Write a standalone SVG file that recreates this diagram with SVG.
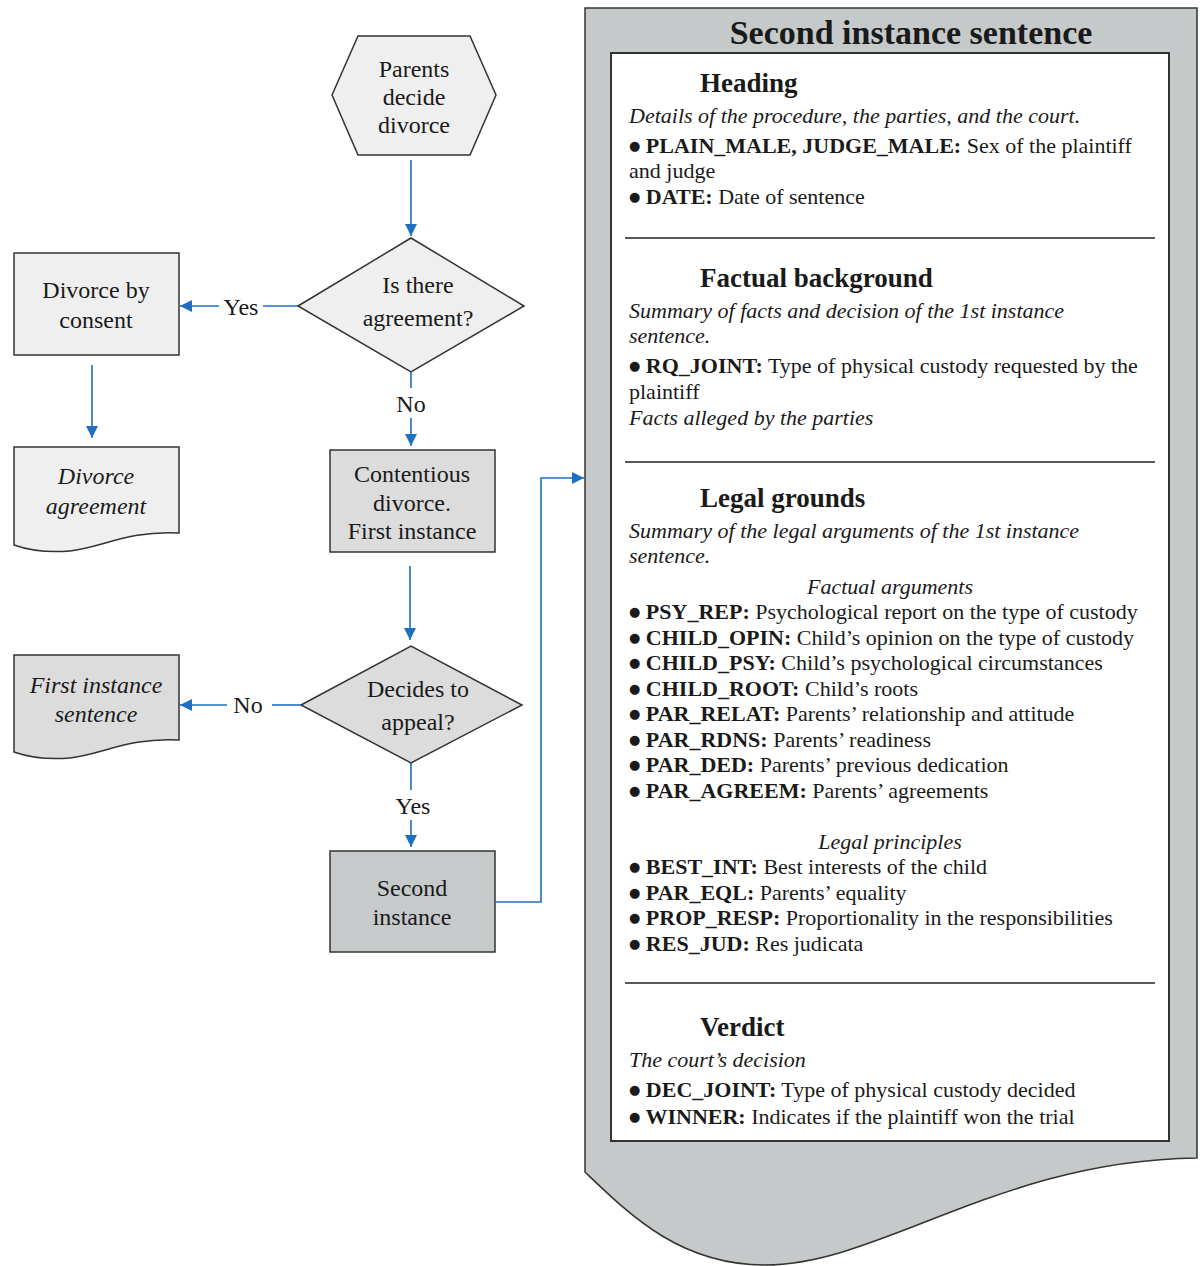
<svg xmlns="http://www.w3.org/2000/svg" width="1201" height="1266" viewBox="0 0 1201 1266">
<defs>
<marker id="ah" viewBox="0 0 12 12" refX="12" refY="6" markerWidth="12" markerHeight="12" markerUnits="userSpaceOnUse" orient="auto">
<path d="M0,0 L12,6 L0,12 Z" fill="#1f6fbf"/>
</marker>
<style>
.shape{stroke:#333;stroke-width:1.5}
.l1{fill:#efefef}
.l2{fill:#dcdcdc}
.l3{fill:#c6cacb}
.t{font-family:"Liberation Serif","Times New Roman",serif;font-size:24px;fill:#1a1a1a;text-anchor:middle}
.ti{font-style:italic}
.c{fill:none;stroke:#1f6fbf;stroke-width:1.6}
.p{font-family:"Liberation Serif","Times New Roman",serif;font-size:22px;fill:#1a1a1a}
.b{font-weight:bold}
.i{font-style:italic}
.d{font-family:"DejaVu Sans",sans-serif;font-size:13px}
.h{font-family:"Liberation Serif","Times New Roman",serif;font-size:27px;font-weight:bold;fill:#1a1a1a}
.title{font-family:"Liberation Serif","Times New Roman",serif;font-size:34px;font-weight:bold;fill:#1a1a1a;text-anchor:middle}
.sep{stroke:#222;stroke-width:1.5}
</style>
</defs>
<rect width="1201" height="1266" fill="#ffffff"/>

<g id="sentence-panel">
<path class="shape" d="M585,8 H1197 V1158 C1000,1160 880,1265 765,1265 C680,1265 630,1215 585,1172 Z" fill="#c5c9ca"/>
<rect x="611" y="53" width="558" height="1088" fill="#ffffff" stroke="#333" stroke-width="2"/>
<text class="title" x="911" y="44">Second instance sentence</text>
<line class="sep" x1="625" y1="238" x2="1155" y2="238"/>
<line class="sep" x1="625" y1="462" x2="1155" y2="462"/>
<line class="sep" x1="625" y1="983" x2="1155" y2="983"/>

<text class="h" x="700" y="92">Heading</text>
<text class="p i" x="629" y="123">Details of the procedure, the parties, and the court.</text>
<text class="p" x="629" y="153"><tspan class="d" dy="-3">●</tspan><tspan class="b" dy="3"> PLAIN_MALE, JUDGE_MALE:</tspan> Sex of the plaintiff</text>
<text class="p" x="629" y="178">and judge</text>
<text class="p" x="629" y="204"><tspan class="d" dy="-3">●</tspan><tspan class="b" dy="3"> DATE:</tspan> Date of sentence</text>

<text class="h" x="700" y="287">Factual background</text>
<text class="p i" x="629" y="318">Summary of facts and decision of the 1st instance</text>
<text class="p i" x="629" y="343">sentence.</text>
<text class="p" x="629" y="373"><tspan class="d" dy="-3">●</tspan><tspan class="b" dy="3"> RQ_JOINT:</tspan> Type of physical custody requested by the</text>
<text class="p" x="629" y="399">plaintiff</text>
<text class="p i" x="629" y="425">Facts alleged by the parties</text>

<text class="h" x="700" y="507">Legal grounds</text>
<text class="p i" x="629" y="538">Summary of the legal arguments of the 1st instance</text>
<text class="p i" x="629" y="563">sentence.</text>
<text class="p i" x="890" y="594" text-anchor="middle">Factual arguments</text>
<text class="p" x="629" y="619"><tspan class="d" dy="-3">●</tspan><tspan class="b" dy="3"> PSY_REP:</tspan> Psychological report on the type of custody</text>
<text class="p" x="629" y="645"><tspan class="d" dy="-3">●</tspan><tspan class="b" dy="3"> CHILD_OPIN:</tspan> Child’s opinion on the type of custody</text>
<text class="p" x="629" y="670"><tspan class="d" dy="-3">●</tspan><tspan class="b" dy="3"> CHILD_PSY:</tspan> Child’s psychological circumstances</text>
<text class="p" x="629" y="696"><tspan class="d" dy="-3">●</tspan><tspan class="b" dy="3"> CHILD_ROOT:</tspan> Child’s roots</text>
<text class="p" x="629" y="721"><tspan class="d" dy="-3">●</tspan><tspan class="b" dy="3"> PAR_RELAT:</tspan> Parents’ relationship and attitude</text>
<text class="p" x="629" y="747"><tspan class="d" dy="-3">●</tspan><tspan class="b" dy="3"> PAR_RDNS:</tspan> Parents’ readiness</text>
<text class="p" x="629" y="772"><tspan class="d" dy="-3">●</tspan><tspan class="b" dy="3"> PAR_DED:</tspan> Parents’ previous dedication</text>
<text class="p" x="629" y="798"><tspan class="d" dy="-3">●</tspan><tspan class="b" dy="3"> PAR_AGREEM:</tspan> Parents’ agreements</text>
<text class="p i" x="890" y="849" text-anchor="middle">Legal principles</text>
<text class="p" x="629" y="874"><tspan class="d" dy="-3">●</tspan><tspan class="b" dy="3"> BEST_INT:</tspan> Best interests of the child</text>
<text class="p" x="629" y="900"><tspan class="d" dy="-3">●</tspan><tspan class="b" dy="3"> PAR_EQL:</tspan> Parents’ equality</text>
<text class="p" x="629" y="925"><tspan class="d" dy="-3">●</tspan><tspan class="b" dy="3"> PROP_RESP:</tspan> Proportionality in the responsibilities</text>
<text class="p" x="629" y="951"><tspan class="d" dy="-3">●</tspan><tspan class="b" dy="3"> RES_JUD:</tspan> Res judicata</text>

<text class="h" x="700" y="1036">Verdict</text>
<text class="p i" x="629" y="1067">The court’s decision</text>
<text class="p" x="629" y="1097"><tspan class="d" dy="-3">●</tspan><tspan class="b" dy="3"> DEC_JOINT:</tspan> Type of physical custody decided</text>
<text class="p" x="629" y="1124"><tspan class="d" dy="-3">●</tspan><tspan class="b" dy="3"> WINNER:</tspan> Indicates if the plaintiff won the trial</text>
</g>

<g id="parents-decide">
<polygon class="shape l1" points="332,95 358,36 470,36 496,95 470,155 358,155"/>
<text class="t" x="414" y="77">Parents</text>
<text class="t" x="414" y="105">decide</text>
<text class="t" x="414" y="133">divorce</text>
</g>

<g id="is-there-agreement">
<polygon class="shape l1" points="298,306 411,238 524,306 411,372"/>
<text class="t" x="418" y="293">Is there</text>
<text class="t" x="418" y="326">agreement?</text>
</g>

<g id="divorce-by-consent">
<rect class="shape l1" x="14" y="253" width="165" height="102"/>
<text class="t" x="96" y="298">Divorce by</text>
<text class="t" x="96" y="328">consent</text>
</g>

<g id="divorce-agreement">
<path class="shape l1" d="M14,447 H179 V533 C130,530 100,548 70,551 C45,553 28,550 14,545 Z"/>
<text class="t ti" x="96" y="484">Divorce</text>
<text class="t ti" x="96" y="514">agreement</text>
</g>

<g id="contentious-divorce">
<rect class="shape l2" x="330" y="450" width="165" height="102"/>
<text class="t" x="412" y="482">Contentious</text>
<text class="t" x="412" y="511">divorce.</text>
<text class="t" x="412" y="539">First instance</text>
</g>

<g id="decides-to-appeal">
<polygon class="shape l2" points="301,705 411,646 522,705 411,763"/>
<text class="t" x="418" y="697">Decides to</text>
<text class="t" x="418" y="730">appeal?</text>
</g>

<g id="first-instance-sentence">
<path class="shape l2" d="M14,655 H179 V740 C130,737 100,755 70,758 C45,760 28,757 14,752 Z"/>
<text class="t ti" x="96" y="693">First instance</text>
<text class="t ti" x="96" y="722">sentence</text>
</g>

<g id="second-instance">
<rect class="shape l3" x="330" y="851" width="165" height="101"/>
<text class="t" x="412" y="896">Second</text>
<text class="t" x="412" y="925">instance</text>
</g>

<g id="connectors">
<line class="c" x1="411" y1="160" x2="411" y2="236" marker-end="url(#ah)"/>
<line class="c" x1="298" y1="306" x2="263" y2="306"/>
<line class="c" x1="219" y1="306" x2="180" y2="306" marker-end="url(#ah)"/>
<text class="t" x="241" y="315">Yes</text>
<line class="c" x1="92" y1="365" x2="92" y2="438" marker-end="url(#ah)"/>
<line class="c" x1="411" y1="372" x2="411" y2="388"/>
<text class="t" x="411" y="412">No</text>
<line class="c" x1="411" y1="418" x2="411" y2="446" marker-end="url(#ah)"/>
<line class="c" x1="410" y1="566" x2="410" y2="640" marker-end="url(#ah)"/>
<line class="c" x1="301" y1="705" x2="272" y2="705"/>
<text class="t" x="248" y="713">No</text>
<line class="c" x1="227" y1="705" x2="180" y2="705" marker-end="url(#ah)"/>
<line class="c" x1="411" y1="763" x2="411" y2="790"/>
<text class="t" x="413" y="814">Yes</text>
<line class="c" x1="411" y1="820" x2="411" y2="847" marker-end="url(#ah)"/>
<polyline class="c" points="495,902 541,902 541,478 584,478" marker-end="url(#ah)"/>
</g>
</svg>
